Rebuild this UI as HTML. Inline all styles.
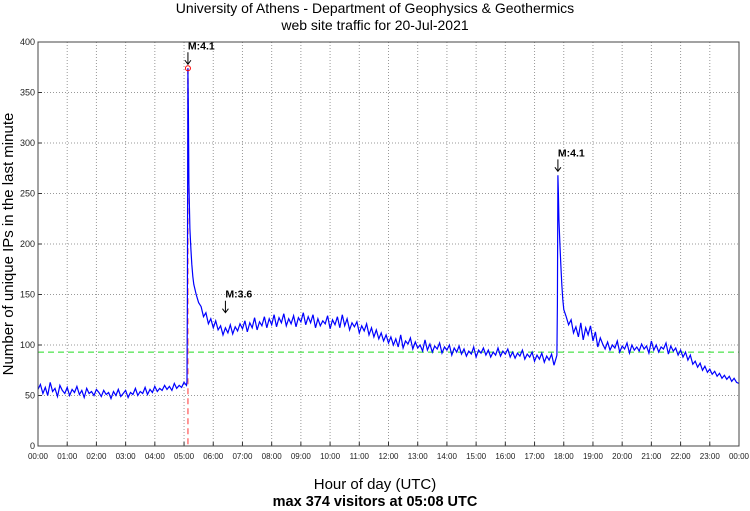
<!DOCTYPE html>
<html><head><meta charset="utf-8"><style>
html,body{margin:0;padding:0;background:#fff;}
svg{display:block;font-family:"Liberation Sans",sans-serif;}
</style></head><body>
<svg id="chart" width="750" height="511" viewBox="0 0 750 511">
<text x="375" y="13" text-anchor="middle" font-size="14">University of Athens - Department of Geophysics &amp; Geothermics</text>
<text x="375" y="30" text-anchor="middle" font-size="14">web site traffic for 20-Jul-2021</text>
<text transform="translate(13,244) rotate(-90)" text-anchor="middle" font-size="15">Number of unique IPs in the last minute</text>
<text x="375" y="489" text-anchor="middle" font-size="15">Hour of day (UTC)</text>
<text x="375" y="506" text-anchor="middle" font-size="14.5" font-weight="bold">max 374 visitors at 05:08 UTC</text>
<g id="grid"></g><g id="marks"></g><g id="axes"></g>
</svg>
<script>
const yTicks=[0,50,100,150,200,250,300,350,400];
const xTickLabels=["00:00","01:00","02:00","03:00","04:00","05:00","06:00","07:00","08:00","09:00","10:00","11:00","12:00","13:00","14:00","15:00","16:00","17:00","18:00","19:00","20:00","21:00","22:00","23:00","00:00"];
const minutes=[];
const visitors=[];
const seg1=[56,61,52,58,50,63,54,57,49,60,55,52,58,50,56,53,59,51,55,48,57,52,54,50,56,53,49,55,51,53,47,54,50,56,49,52,55,48,53,51,57,50,54,52,58,51,56,53,59,54,57,55,60,56,59,55,62,57,60,58,63,60];
const spike1Min=[306,307,308,309,310,312,314,316,318,320];
const spike1Val=[64,150,374,330,260,215,195,180,168,160];
const seg2=[150,142,138,128,132,121,126,117,124,115,119,110,117,112,120,111,118,114,121,116,124,113,122,117,127,115,123,119,128,117,126,120,130,118,127,122,131,119,126,121,129,118,127,123,132,120,128,122,130,117,126,119,124,121,129,116,125,120,128,117,130,119,126,115,122,118,123,112,119,114,121,110,117,108,115,106,112,104,110,102,108,100,106,98,110,97,104,101,107,96,103,97,100,94,105,95,101,93,99,96,102,92,98,95,100,90,97,93,99,91,96,89,94,91,98,88,95,92,97,90,95,88,93,90,97,89,94,91,96,88,93,87,92,89,95,86,91,88,93,84,90,86,92,83,89,85,91,80,88];
const spike2Min=[1066,1067,1068,1069,1070,1072,1074,1076,1078,1080];
const spike2Val=[90,140,268,250,225,200,180,160,145,135];
const seg3=[128,120,125,112,118,108,122,105,117,110,119,104,113,98,107,101,96,103,95,100,97,104,93,99,96,102,92,100,95,98,94,101,96,99,92,104,95,100,93,98,96,102,91,99,94,97,90,95,88,93,85,90,81,84,78,82,75,79,73,76,71,74,69,72,67,70,66,69,64,67,63,62];
const meanLevel=93;
const quakeMin=[308,385,1068];
const quakeLabel=["M:4.1","M:3.6","M:4.1"];
const quakeVal=[374,128,268];
const maxMin=308, maxVal=374;
seg1.forEach((v,i)=>{minutes.push(i*5);visitors.push(v);});
spike1Min.forEach((m,i)=>{minutes.push(m);visitors.push(spike1Val[i]);});
seg2.forEach((v,i)=>{minutes.push(325+i*5);visitors.push(v);});
spike2Min.forEach((m,i)=>{minutes.push(m);visitors.push(spike2Val[i]);});
seg3.forEach((v,i)=>{minutes.push(1085+i*5);visitors.push(v);});

const L=38,R=739,T=42,B=446;
const x=m=>L+(R-L)*m/1440;
const y=v=>B-(B-T)*v/400;
const NS="http://www.w3.org/2000/svg";
function mk(tag,parent,attrs){const e=document.createElementNS(NS,tag);for(const k in attrs)e.setAttribute(k,attrs[k]);parent.appendChild(e);return e;}
const grid=document.getElementById('grid'),marks=document.getElementById('marks'),axes=document.getElementById('axes');
yTicks.forEach(t=>{
  const g=mk('line',grid,{x1:L,x2:R,y1:y(t),y2:y(t),stroke:'#999','stroke-width':1,'stroke-dasharray':'1,2'});
  
  
  const tk=mk('line',axes,{x1:L,x2:L+4,y1:y(t),y2:y(t),stroke:'#333'});
  
  
  const lb=mk('text',axes,{x:L-3,y:y(t)+3,'text-anchor':'end','font-size':9,fill:'#222'});
  lb.textContent=t;
  
  
});
xTickLabels.forEach((s,i)=>{
  const xx=x(i*60);
  const g=mk('line',grid,{x1:xx,x2:xx,y1:T,y2:B,stroke:'#999','stroke-width':1,'stroke-dasharray':'1,2'});
  
  
  const tk=mk('line',axes,{x1:xx,x2:xx,y1:B,y2:B-4,stroke:'#333'});
  
  
  const lb=mk('text',axes,{x:xx,y:B+13,'text-anchor':'middle','font-size':8,fill:'#222'});
  lb.textContent=s;
  
  
});
const frame=mk('rect',axes,{x:L,y:T,width:R-L,height:B-T,fill:'none',stroke:'#444'});


const mean=mk('line',marks,{x1:L,x2:R,y1:y(meanLevel),y2:y(meanLevel),stroke:'#22dd22','stroke-dasharray':'6,4'});


const maxl=mk('line',marks,{x1:x(maxMin),x2:x(maxMin),y1:y(maxVal),y2:B,stroke:'#ff7777','stroke-width':1.5,'stroke-dasharray':'6,4'});


const pts=minutes.map((m,i)=>x(m).toFixed(1)+','+y(visitors[i]).toFixed(1)).join(' ');
const line=mk('polyline',marks,{points:pts,fill:'none',stroke:'#0000ff','stroke-width':1.2});


const mc=mk('circle',marks,{cx:x(maxMin),cy:y(maxVal),r:2.5,fill:'none',stroke:'#ff0000','stroke-width':1});


quakeMin.forEach((m,i)=>{
  const xx=x(m),yy=y(quakeVal[i])-4;
  const a=mk('path',marks,{d:`M${xx},${yy-12}L${xx},${yy}M${xx-3},${yy-4}L${xx},${yy}L${xx+3},${yy-4}`,stroke:'#000',fill:'none','stroke-width':1});
  
  
  const t=mk('text',marks,{x:xx,y:yy-15,'font-size':10.5,'font-weight':'bold'});
  t.textContent=quakeLabel[i];
  
  
});
</script>
</body></html>
